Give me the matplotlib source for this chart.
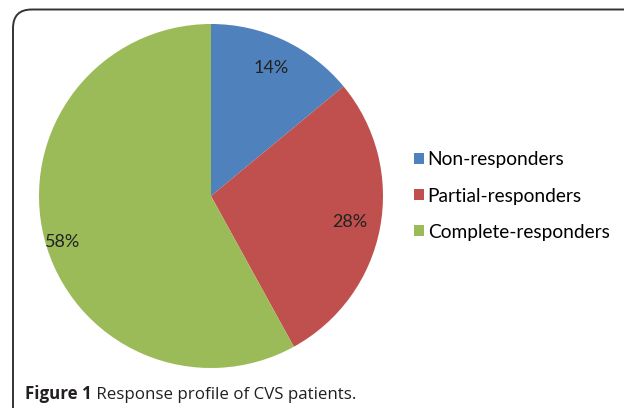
import matplotlib.pyplot as plt
from matplotlib.patches import FancyBboxPatch, Patch

labels = ["Non-responders", "Partial-responders", "Complete-responders"]
shares = [14, 28, 58]
colors = ["#4F81BD", "#C0504D", "#9BBB59"]

W, H = 624, 408
fig = plt.figure(figsize=(W / 100, H / 100), dpi=100)
fig.patch.set_facecolor("white")

# rounded frame, only top and left edges are visible
frame = FancyBboxPatch((13 / W, -0.2), 1.2, (H - 9.5) / H + 0.2,
                       boxstyle="round,pad=0,rounding_size=0.03",
                       transform=fig.transFigure, facecolor="none",
                       edgecolor="#333333", linewidth=1.4, mutation_aspect=W / H)
fig.patches.append(frame)

cx, cy, r = 211, 196, 172
ax = fig.add_axes([(cx - r) / W, (H - cy - r) / H, 2 * r / W, 2 * r / H])
wedges, texts, autotexts = ax.pie(shares, colors=colors, startangle=90, counterclock=False,
                                  autopct="%d%%", pctdistance=0.82,
                                  wedgeprops=dict(linewidth=0),
                                  textprops=dict(fontsize=13, color="#222222", family="Lato"))
# Excel put the big slice label a little lower and further out
autotexts[2].set_position((-0.86, -0.27))
ax.set_xlim(-1, 1)
ax.set_ylim(-1, 1)
ax.set_aspect("equal")
ax.axis("off")

handles = [Patch(facecolor=c, edgecolor="none") for c in colors]
fig.legend(handles, labels, loc="center left", bbox_to_anchor=(397 / W, 1 - 196 / H),
           frameon=False, prop=dict(family="Lato", size=13.8),
           handlelength=0.5, handleheight=0.5, handletextpad=0.2, labelspacing=1.0)

t1 = fig.text(25 / W, 1 - 399 / H, "Figure 1", fontsize=12.2, fontweight="bold",
              family="Open Sans", color="#231f20", va="baseline")
ax.annotate(" Response profile of CVS patients.", xy=(1, 0), xycoords=t1,
            fontsize=12.2, family="Open Sans", color="#231f20", va="bottom", ha="left",
            annotation_clip=False)

fig.savefig("out.png", dpi=100)
